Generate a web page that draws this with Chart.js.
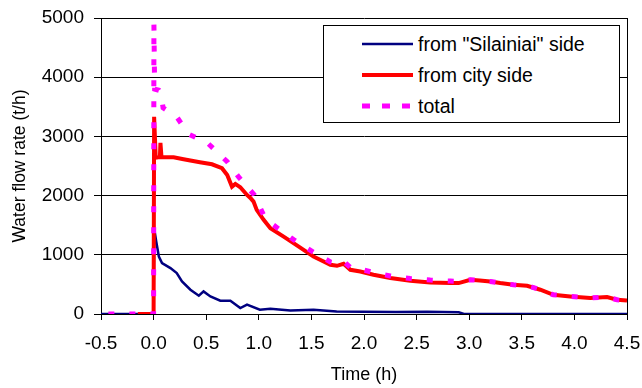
<!DOCTYPE html>
<html>
<head>
<meta charset="utf-8">
<script src="https://cdn.jsdelivr.net/npm/chart.js@4/dist/chart.umd.min.js"></script>
<style>
  body { margin: 0; background: #fff; }
  #wrap { position: relative; width: 642px; height: 388px; }
  #legend {
    position: absolute; left: 323px; top: 25px; width: 295px; height: 96px;
    border: 1px solid #000; background: #fff;
    font-family: Arial, "Liberation Sans", sans-serif; font-size: 19.5px; color: #000;
  }
  .row { position: absolute; left: 38px; height: 24px; display: flex; align-items: center; white-space: nowrap; }
  .row svg { margin-right: 5px; }
</style>
</head>
<body>
<div id="wrap">
  <canvas id="chart" width="642" height="388"></canvas>
  <div id="legend"></div>
</div>
<script>
// Time axis ticks (h)
const xMin = -0.5, xMax = 4.5, xStep = 0.5;
const yMin = 0, yMax = 5000, yStep = 1000;

// from "Silainiai" side
const silainiaiX = [-0.5, 0, 0.005, 0.025, 0.05, 0.08, 0.16, 0.22, 0.27, 0.35, 0.43, 0.475, 0.54, 0.634, 0.73, 0.824, 0.888, 1.01, 1.11, 1.3, 1.52, 1.74, 2.0, 2.3, 2.6, 2.9, 2.95, 4.5];
const silainiaiY = [0, 0, 1450, 1224, 971, 860, 775, 691, 550, 410, 309, 381, 297, 224, 224, 101, 157, 72, 89, 61, 72, 44, 40, 35, 40, 30, 0, 0];

// from city side
const cityX = [-0.15, 0, 0.005, 0.02, 0.06, 0.065, 0.075, 0.19, 0.285, 0.44, 0.555, 0.65, 0.70, 0.745, 0.777, 0.824, 0.888, 0.92, 0.95, 0.98, 1.046, 1.11, 1.236, 1.33, 1.426, 1.52, 1.616, 1.68, 1.743, 1.806, 1.87, 1.965, 2.09, 2.25, 2.44, 2.63, 2.82, 2.9, 3.01, 3.1, 3.2, 3.295, 3.42, 3.55, 3.676, 3.80, 3.96, 4.15, 4.31, 4.405, 4.5];
const cityY = [0, 0, 3330, 2640, 2650, 2890, 2650, 2647, 2613, 2563, 2529, 2462, 2349, 2151, 2197, 2141, 2011, 1960, 1899, 1758, 1590, 1450, 1308, 1197, 1084, 971, 887, 831, 814, 848, 747, 718, 663, 607, 561, 533, 522, 522, 578, 567, 550, 522, 494, 477, 410, 325, 297, 270, 287, 241, 229];

// total
const totalX = [-0.43, 0, 0.003, 0.01, 0.05, 0.07, 0.09, 0.22, 0.33, 0.51, 0.70, 0.81, 0.957, 1.046, 1.11, 1.236, 1.33, 1.426, 1.52, 1.616, 1.68, 1.743, 1.806, 1.87, 1.965, 2.09, 2.25, 2.44, 2.63, 2.82, 2.9, 3.01, 3.1, 3.2, 3.295, 3.42, 3.55, 3.676, 3.80, 3.96, 4.15, 4.31, 4.405, 4.5];
const totalY = [0, 0, 4900, 3800, 3780, 3726, 3483, 3331, 3040, 2893, 2573, 2310, 2011, 1670, 1540, 1378, 1257, 1149, 1043, 947, 881, 858, 891, 789, 758, 701, 643, 599, 573, 557, 552, 578, 567, 550, 522, 494, 477, 410, 325, 297, 270, 287, 241, 229];

const toPoints = (xs, ys) => xs.map((x, i) => ({ x: x, y: ys[i] }));

const datasets = [
  { label: 'from "Silainiai" side', data: toPoints(silainiaiX, silainiaiY), borderColor: '#000080', borderWidth: 2.5, order: 2 },
  { label: 'from city side', data: toPoints(cityX, cityY), borderColor: '#ff0000', borderWidth: 4, order: 1 },
  { label: 'total', data: toPoints(totalX, totalY), borderColor: '#ff00ff', borderWidth: 5, borderDash: [6, 15], order: 0 }
];

Chart.defaults.font.family = 'Arial, "Liberation Sans", sans-serif';
Chart.defaults.font.size = 19;
Chart.defaults.color = '#000';

// right border of the plot area
const frame = {
  id: 'frame',
  afterDraw(chart) {
    const { ctx, chartArea } = chart;
    ctx.save();
    ctx.strokeStyle = '#000';
    ctx.lineWidth = 1;
    ctx.beginPath();
    ctx.moveTo(chartArea.right + 0.5, chartArea.top);
    ctx.lineTo(chartArea.right + 0.5, chartArea.bottom);
    ctx.stroke();
    ctx.restore();
  }
};

new Chart(document.getElementById('chart'), {
  type: 'line',
  data: { datasets: datasets },
  options: {
    responsive: false,
    animation: false,
    layout: { padding: { top: 18, right: 15, left: 0, bottom: 0 } },
    elements: { point: { radius: 0 }, line: { tension: 0, fill: false } },
    plugins: { legend: { display: false }, tooltip: { enabled: false } },
    scales: {
      x: {
        type: 'linear',
        min: xMin, max: xMax,
        ticks: { stepSize: xStep, padding: 12, callback: v => v.toFixed(1), maxRotation: 0 },
        grid: { drawOnChartArea: false, drawTicks: true, tickLength: 6, color: '#000' },
        border: { color: '#000', width: 1 },
        title: { display: true, text: 'Time (h)', font: { size: 18 }, padding: { top: 4, bottom: 2 } },
        afterFit: s => { s.height = 74; s.paddingLeft = 0; s.paddingRight = 0; }
      },
      y: {
        min: yMin, max: yMax,
        ticks: { stepSize: yStep, padding: 10, callback: v => String(v) },
        grid: { color: '#000', drawTicks: true, tickLength: 7 },
        border: { color: '#000', width: 1 },
        title: { display: true, text: 'Water flow rate (t/h)', font: { size: 17.5 }, padding: { top: 10, bottom: 4 } },
        afterFit: s => { s.width = 101; s.paddingTop = 0; s.paddingBottom = 0; }
      }
    }
  },
  plugins: [frame]
});

// legend
const legend = document.getElementById('legend');
datasets.forEach((d, i) => {
  const row = document.createElement('div');
  row.className = 'row';
  row.style.top = (6 + i * 31) + 'px';
  const dash = d.borderDash ? 'stroke-dasharray="8,12"' : '';
  row.innerHTML = `<svg width="51" height="8"><line x1="0" y1="4" x2="51" y2="4" stroke="${d.borderColor}" stroke-width="${d.borderWidth}" ${dash}/></svg><span>${d.label}</span>`;
  legend.appendChild(row);
});
</script>
</body>
</html>
